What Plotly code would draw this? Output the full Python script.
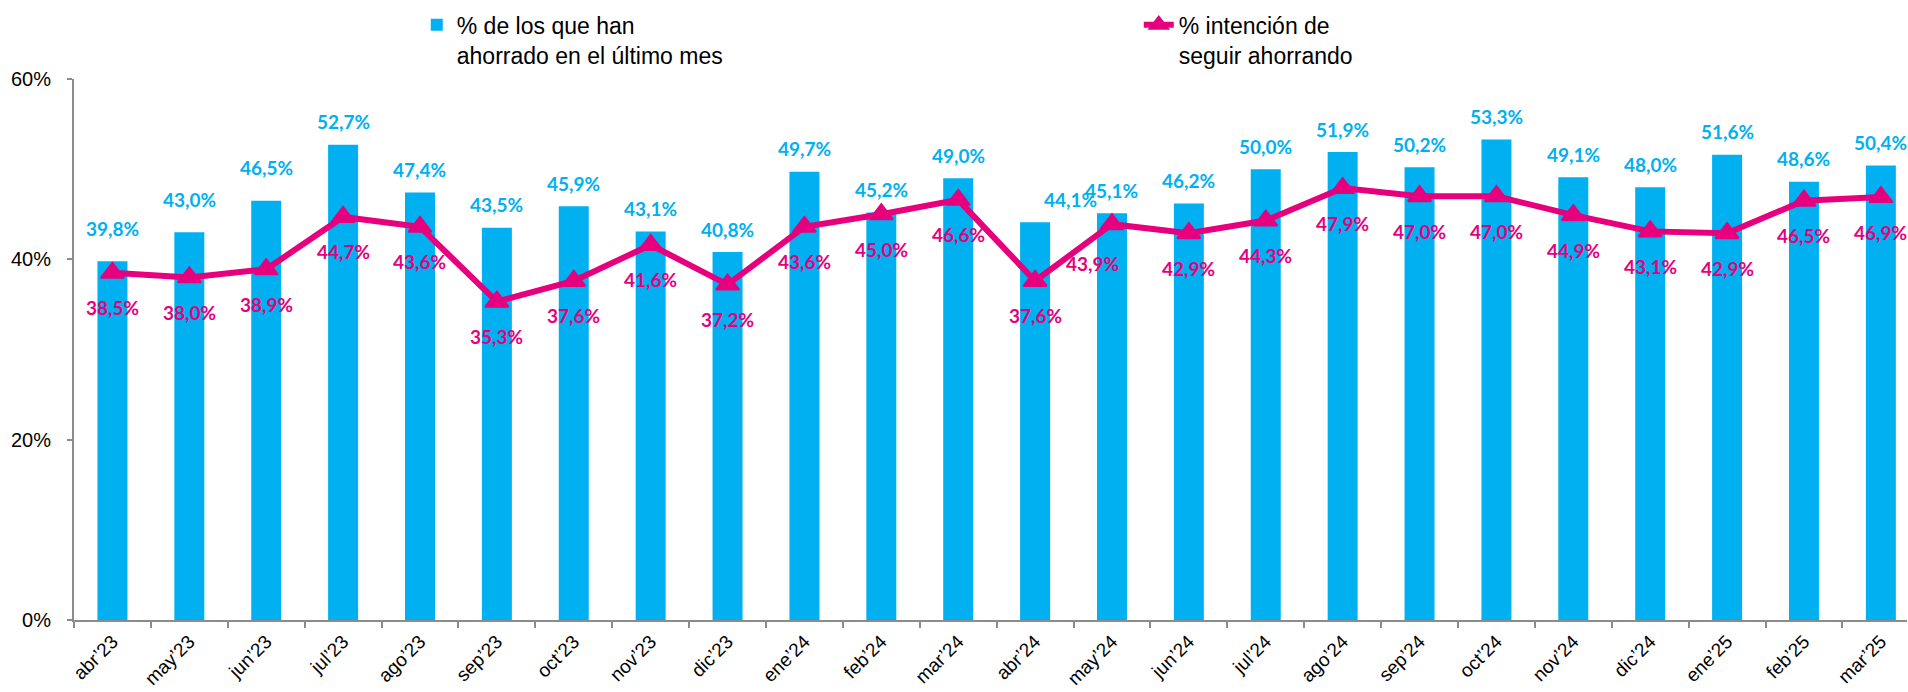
import plotly.graph_objects as go

meses = ["abr’23", "may’23", "jun’23", "jul’23", "ago’23", "sep’23", "oct’23", "nov’23",
         "dic’23", "ene’24", "feb’24", "mar’24", "abr’24", "may’24", "jun’24", "jul’24",
         "ago’24", "sep’24", "oct’24", "nov’24", "dic’24", "ene’25", "feb’25", "mar’25"]

ahorrado = [39.8, 43.0, 46.5, 52.7, 47.4, 43.5, 45.9, 43.1, 40.8, 49.7, 45.2, 49.0,
            44.1, 45.1, 46.2, 50.0, 51.9, 50.2, 53.3, 49.1, 48.0, 51.6, 48.6, 50.4]

intencion = [38.5, 38.0, 38.9, 44.7, 43.6, 35.3, 37.6, 41.6, 37.2, 43.6, 45.0, 46.6,
             37.6, 43.9, 42.9, 44.3, 47.9, 47.0, 47.0, 44.9, 43.1, 42.9, 46.5, 46.9]

nombre_barras = "% de los que han<br>ahorrado en el último mes"
nombre_linea = "% intención de<br>seguir ahorrando"

AZUL = "#00B0F0"
ROSA = "#E6007E"

# ajustes manuales de etiquetas (px), como en el original
ajuste_barras = {"abr’23": (0, 10), "may’23": (0, 10), "jun’23": (0, 10), "abr’24": (35, 0)}
ajuste_linea = {"may’24": (-19, -4)}


def fmt(v):
    return f"{v:.1f}".replace(".", ",") + "%"


fig = go.Figure()

fig.add_trace(go.Bar(
    x=meses, y=ahorrado, name=nombre_barras,
    marker=dict(color=AZUL, line=dict(width=0)),
))

fig.add_trace(go.Scatter(
    x=meses, y=intencion, name=nombre_linea, mode="lines+markers",
    line=dict(color=ROSA, width=6),
    marker=dict(symbol="triangle-up", size=20, color=ROSA, line=dict(color=ROSA, width=2)),
))

annotations = []
for m, v in zip(meses, ahorrado):
    dx, dy = ajuste_barras.get(m, (0, 0))
    annotations.append(dict(
        x=m, y=v, text=fmt(v), showarrow=False, xshift=dx, yshift=23 + dy,
        font=dict(family="Lato", size=19, color=AZUL, weight="bold"),
    ))
for m, v in zip(meses, intencion):
    dx, dy = ajuste_linea.get(m, (0, 0))
    annotations.append(dict(
        x=m, y=v, text=fmt(v), showarrow=False, xshift=dx, yshift=-35 + dy,
        font=dict(family="Lato", size=19, color=ROSA, weight="bold"),
    ))

fig.update_layout(
    width=1908, height=692,
    margin=dict(l=74, r=1, t=79, b=72),
    paper_bgcolor="white", plot_bgcolor="white",
    font=dict(family="Liberation Sans, Arial", color="black"),
    bargap=0.61,
    showlegend=True,
    legend=dict(
        orientation="h", x=0.187, xanchor="left", y=1.14, yanchor="top",
        font=dict(size=23, color="black"), valign="top",
        entrywidth=677, entrywidthmode="pixels",
        bgcolor="rgba(0,0,0,0)",
    ),
    annotations=annotations,
    xaxis=dict(
        range=[-0.5, 23.34], showline=True, linecolor="#8C8C8C", linewidth=2,
        ticks="outside", tickson="boundaries", ticklen=6, tickcolor="#8C8C8C", tickwidth=2,
        tickangle=-45, tickfont=dict(size=19, color="black"), showgrid=False,
        ticklabelstandoff=1, automargin=False,
    ),
    yaxis=dict(
        range=[0, 60], dtick=20, ticksuffix="%", showline=True, linecolor="#8C8C8C",
        linewidth=2, ticks="outside", ticklen=5, tickcolor="#8C8C8C", tickwidth=2,
        tickfont=dict(size=20, color="black"), showgrid=False, zeroline=False,
        ticklabelstandoff=12, automargin=False,
    ),
)

# la página por defecto tiene un margen de 8px en el body
fig.write_html("out.html", config={"displayModeBar": False},
               post_script="document.body.style.margin = '0px';")
